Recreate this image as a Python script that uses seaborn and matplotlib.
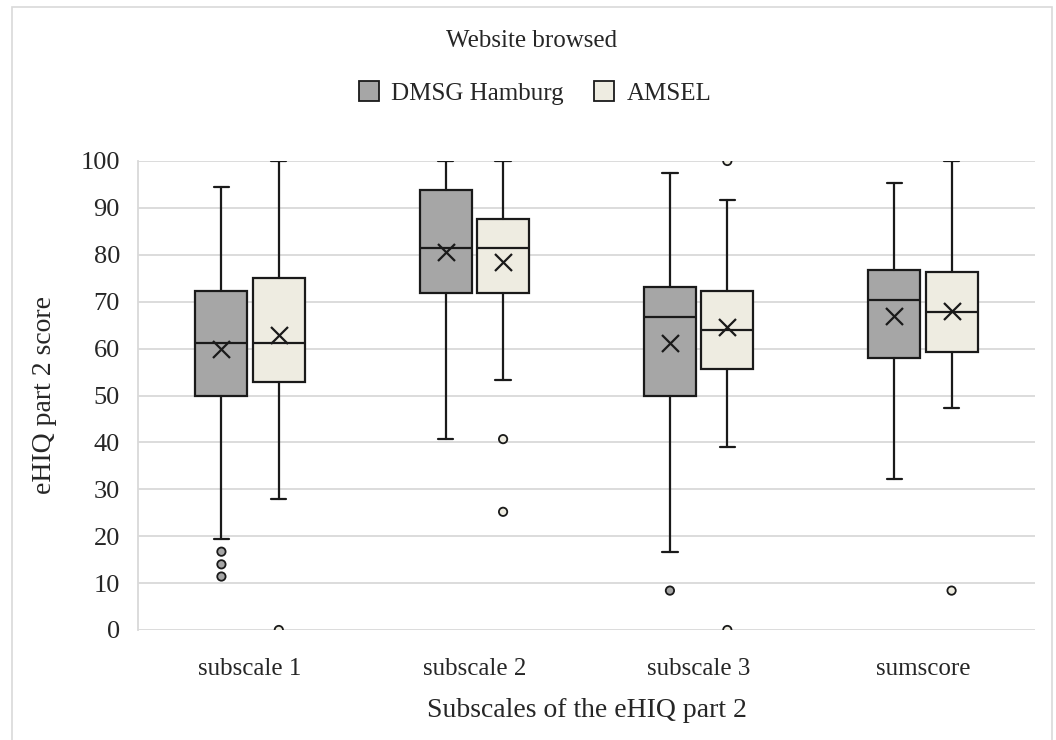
import matplotlib.pyplot as plt
import numpy as np
import pandas as pd
import seaborn as sns
from matplotlib.patches import Patch, Rectangle

categories = ["subscale 1", "subscale 2", "subscale 3", "sumscore"]
groups = ["DMSG Hamburg", "AMSEL"]

# box statistics
dmsg_whislo = [19.5, 40.7, 16.7, 32.1]
dmsg_q1 = [50.0, 71.9, 50.0, 58.1]
dmsg_med = [61.3, 81.4, 66.8, 70.4]
dmsg_q3 = [72.3, 93.8, 73.1, 76.8]
dmsg_whishi = [94.5, 100, 97.4, 95.4]
dmsg_mean = [59.9, 80.7, 61.1, 66.9]
dmsg_fliers = [[16.7, 14.0, 11.4], [], [8.4], []]

amsel_whislo = [27.9, 53.3, 39.0, 47.3]
amsel_q1 = [52.9, 71.9, 55.6, 59.2]
amsel_med = [61.3, 81.4, 64.0, 67.7]
amsel_q3 = [75.1, 87.6, 72.3, 76.4]
amsel_whishi = [100, 100, 91.7, 100]
amsel_mean = [62.9, 78.4, 64.5, 68.0]
amsel_fliers = [[0], [40.7, 25.2], [100, 0], [8.4]]

colors = {"DMSG Hamburg": "#a6a6a6", "AMSEL": "#eeece1"}

sns.set_theme(style="whitegrid")
plt.rcParams["font.family"] = ["Liberation Serif", "DejaVu Serif"]

fig = plt.figure(figsize=(10.56, 7.4), dpi=100)
ax = fig.add_axes([138 / 1056, 1 - 630 / 740, (1035 - 138) / 1056, (630 - 161) / 740])

group_data = {
    "DMSG Hamburg": (dmsg_whislo, dmsg_q1, dmsg_med, dmsg_q3, dmsg_whishi, dmsg_mean, dmsg_fliers),
    "AMSEL": (amsel_whislo, amsel_q1, amsel_med, amsel_q3, amsel_whishi, amsel_mean, amsel_fliers),
}
offsets = {"DMSG Hamburg": -0.128, "AMSEL": 0.128}

mean_rows = []
flier_rows = []
for g in groups:
    lo, q1, med, q3, hi, mean, fl = group_data[g]
    stats = []
    for i, cat in enumerate(categories):
        stats.append(dict(whislo=lo[i], q1=q1[i], med=med[i], q3=q3[i], whishi=hi[i],
                          mean=mean[i], fliers=[], label=cat))
        mean_rows.append(dict(x=i + offsets[g], y=mean[i], group=g))
        for v in fl[i]:
            flier_rows.append(dict(x=i + offsets[g], y=v, group=g))
    pos = np.arange(len(categories)) + offsets[g]
    ax.bxp(stats, positions=pos, widths=0.232, capwidths=0.068, patch_artist=True,
           showfliers=False, showmeans=False, manage_ticks=False,
           boxprops=dict(facecolor=colors[g], edgecolor="#1a1a1a", linewidth=1.6),
           medianprops=dict(color="#1a1a1a", linewidth=1.6),
           whiskerprops=dict(color="#1a1a1a", linewidth=1.6),
           capprops=dict(color="#1a1a1a", linewidth=1.6), zorder=3)

means = pd.DataFrame(mean_rows)
fliers = pd.DataFrame(flier_rows)

sns.scatterplot(data=fliers, x="x", y="y", hue="group", palette=colors, s=36,
                edgecolor="#1a1a1a", linewidth=1.3, legend=False, ax=ax, zorder=4)
sns.scatterplot(data=means, x="x", y="y", marker="x", color="#1a1a1a", s=150,
                linewidth=1.6, legend=False, ax=ax, zorder=5)

ax.set_xlim(-0.5, 3.5)
ax.set_ylim(0, 100)
ax.set_yticks(range(0, 101, 10))
ax.set_xticks(range(len(categories)))
ax.set_xticklabels(categories, fontsize=18)
ax.tick_params(axis="y", labelsize=19, pad=13, length=0)
ax.tick_params(axis="x", pad=20, length=0)
ax.grid(axis="y", color="#d9d9d9", linewidth=1.3)
ax.grid(axis="x", visible=False)
for side in ["top", "right", "bottom"]:
    ax.spines[side].set_visible(False)
ax.spines["left"].set_color("#d9d9d9")
ax.spines["left"].set_linewidth(1.3)

ax.set_ylabel("eHIQ part 2 score", fontsize=20)
ax.yaxis.set_label_coords(-0.09, 0.5)
ax.set_xlabel("Subscales of the eHIQ part 2", fontsize=20)
ax.xaxis.set_label_coords(0.5, -0.145)

fig.text(532 / 1056, 1 - 41 / 740, "Website browsed", ha="center", va="center", fontsize=18)
handles = [Patch(facecolor=colors[g], edgecolor="#1a1a1a", linewidth=1.3, label=g) for g in groups]
fig.legend(handles=handles, loc="center", bbox_to_anchor=(535 / 1056, 1 - 93 / 740),
           ncol=2, frameon=False, fontsize=18, handlelength=0.8, handleheight=0.8,
           handletextpad=0.5, columnspacing=1.2)

fig.patches.append(Rectangle((12 / 1056, -0.01), (1052 - 12) / 1056, 1 - 7 / 740 + 0.01,
                             transform=fig.transFigure, fill=False, edgecolor="#d9d9d9",
                             linewidth=1.2))

fig.savefig("out.png", dpi=100)
